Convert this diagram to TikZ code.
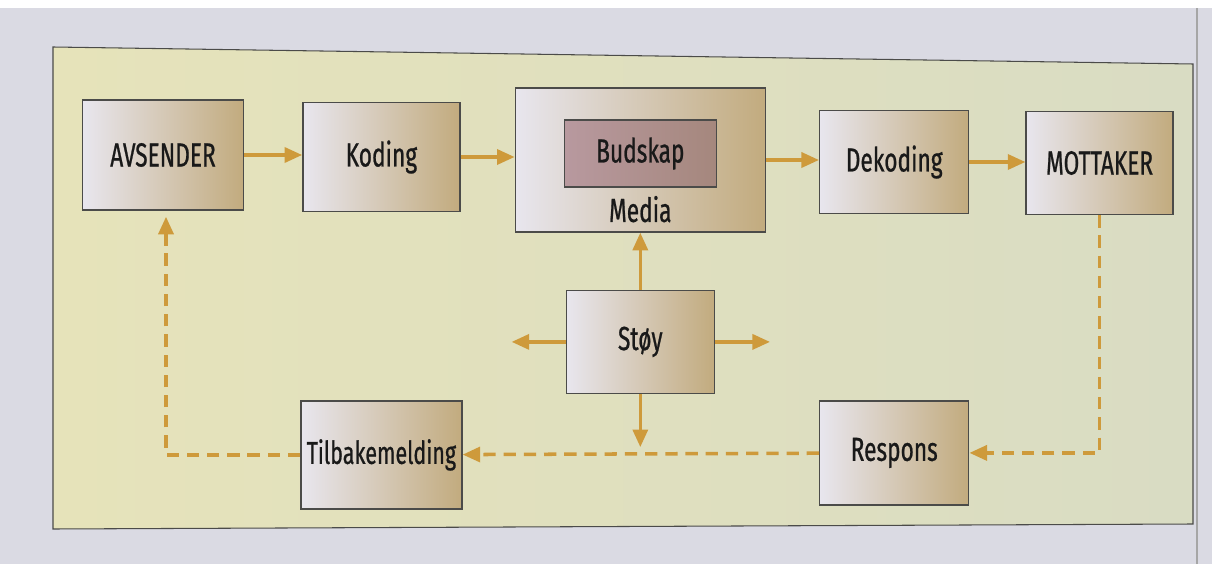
\documentclass[tikz,border=0pt]{standalone}
\usepackage{fontspec}
\setmainfont{Fira Sans}[FakeStretch=0.68, FakeBold=0.7]
\usepackage{tikz}
\usetikzlibrary{positioning,calc,arrows.meta}
\definecolor{paper}{HTML}{DADAE3}
\definecolor{panelyellow}{HTML}{E6E3BA}
\definecolor{panelgreen}{HTML}{D9DCC3}
\definecolor{boxlight}{HTML}{E8E6EE}
\definecolor{boxtan}{HTML}{C2AB7E}
\definecolor{msglight}{HTML}{B8999F}
\definecolor{msgdark}{HTML}{A5877D}
\definecolor{ochre}{HTML}{CE9A3B}
\definecolor{edge}{HTML}{4B4B49}
\tikzstyle{line} = [draw=ochre,line width=2pt,-{Triangle[length=10pt,width=8.5pt]}]
\tikzstyle{dashline} = [line,dash pattern=on 7pt off 4.5pt]

\begin{document}
\begin{tikzpicture}[node distance=1.1cm]
  \tikzstyle{box} = [draw=edge, line width=0.8pt, left color=boxlight, right color=boxtan, text=black!90, font=\fontsize{19}{22}\selectfont, inner sep=0pt]
  \tikzstyle{msg} = [box, left color=msglight, right color=msgdark]
  % photo and panel
  \useasboundingbox (0,0) rectangle (24.24,11.28);
  \fill[paper] (0,0) rectangle (24.24,11.28);
  \fill[white] (0,11.12) rectangle (24.24,11.28);
  \draw[black!35, line width=0.6pt] (23.94,0) -- (23.94,11.12);
  \draw[edge, line width=0.6pt, left color=panelyellow, right color=panelgreen]
    (1.06,10.34) -- (23.86,10.0) -- (23.86,0.8) -- (1.06,0.7) -- cycle;
  % top row
  \node[box, minimum width=3.22cm, minimum height=2.2cm] (avsender) at (3.26,8.18) {AVSENDER};
  \node[box, minimum width=3.14cm, minimum height=2.18cm, right=1.16cm of avsender, yshift=-0.04cm] (koding) {Koding};
  \node[box, minimum width=5.0cm, minimum height=2.88cm, right=1.08cm of koding, yshift=-0.06cm] (media) {};
  \node[msg, minimum width=3.04cm, minimum height=1.34cm, above=0.9cm of media.south] (budskap) {Budskap};
  \node[text=black!90, font=\fontsize{19}{22}\selectfont, inner sep=0pt, above=0.2cm of media.south] (medialabel) {Media};
  \node[box, minimum width=2.98cm, minimum height=2.06cm, right=1.06cm of media, yshift=-0.04cm] (dekoding) {Dekoding};
  \node[box, minimum width=2.94cm, minimum height=2.06cm, right=1.12cm of dekoding, yshift=-0.02cm] (mottaker) {MOTTAKER};
  % noise and feedback
  \node[box, minimum width=2.96cm, minimum height=2.06cm, below=1.14cm of media] (stoy) {Støy};
  \node[box, minimum width=2.98cm, minimum height=2.08cm, below=3.72cm of dekoding] (respons) {Respons};
  \node[box, minimum width=3.22cm, minimum height=2.16cm, below=3.76cm of koding, font=\fontsize{18}{21}\selectfont] (tilbake) {Tilbakemelding};
  \coordinate (stoyleft) at ($(stoy.west)+(-1.08,0)$);
  \coordinate (stoyright) at ($(stoy.east)+(1.1,0)$);
  \coordinate (stoydown) at ($(stoy.south)+(0,-1.06)$);
  \coordinate (rightturn) at (mottaker.south |- respons.east);
  \coordinate (leftturn) at ($(avsender.south |- tilbake.west)+(0.06,0)$);
  \path [line] (avsender) -- (avsender -| koding.west);
  \path [line] (koding) -- (koding -| media.west);
  \path [line] (media) -- (media -| dekoding.west);
  \path [line] (dekoding) -- (dekoding -| mottaker.west);
  \path [line] (stoy.north) -- (stoy.north |- media.south);
  \path [line] (stoy) -- (stoyleft);
  \path [line] (stoy) -- (stoyright);
  \path [line] (stoy) -- (stoydown);
  \path [dashline] (mottaker.south) -- (rightturn) -- (respons.east);
  \path [dashline] (respons) -- (tilbake);
  \path [dashline] (tilbake.west) -- (leftturn) -- ($(avsender.south)+(0.06,-0.12)$);
\end{tikzpicture}
\end{document}
